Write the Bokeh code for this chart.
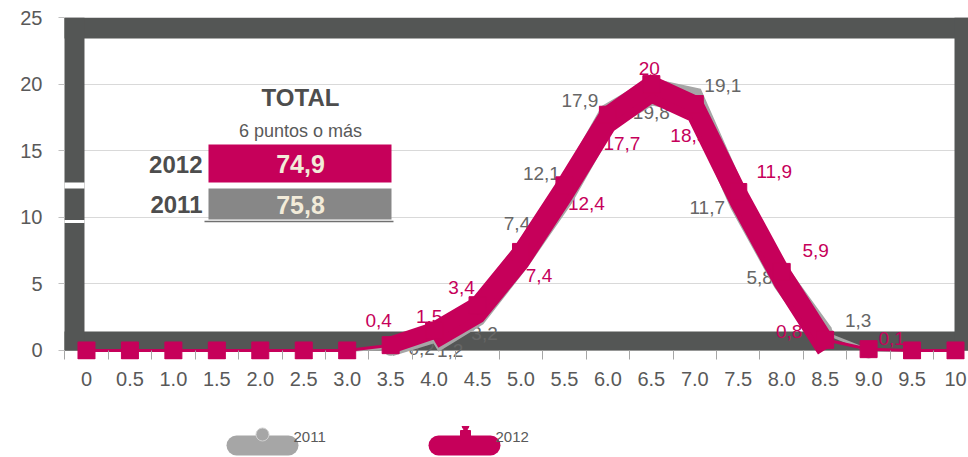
from bokeh.plotting import figure
from bokeh.layouts import column
from bokeh.models import Range1d, FixedTicker, ColumnDataSource
from bokeh.core.properties import value
from bokeh.embed import file_html
from bokeh.resources import INLINE

# ---------------- data ----------------
categories = ["0", "0.5", "1.0", "1.5", "2.0", "2.5", "3.0", "3.5", "4.0", "4.5", "5.0",
              "5.5", "6.0", "6.5", "7.0", "7.5", "8.0", "8.5", "9.0", "9.5", "10"]
values_2011 = [0, 0, 0, 0, 0, 0, 0, 0.2, 1.2, 3.2, 7.4, 12.1, 17.9, 19.8, 19.1, 11.7, 5.8, 1.3, 0, 0, 0]
values_2012 = [0, 0, 0, 0, 0, 0, 0, 0.4, 1.5, 3.4, 7.4, 12.4, 17.7, 20.0, 18.5, 11.9, 5.9, 0.8, 0.1, 0, 0]
series_names = ["2011", "2012"]
y_ticks = [0, 5, 10, 15, 20, 25]
table_title = "TOTAL"
table_subtitle = "6 puntos o más"
table_years = ["2012", "2011"]
table_totals = [74.9, 75.8]

# ---------------- styles ----------------
PINK = "#C6005A"
GRAY = "#A6A6A6"
DARK = "#545655"
LBL_GRAY = "#666666"
AXIS_TXT = "#595959"
FONT = "Liberation Sans"

W = 968
H_MAIN = 425
H_LEG = 32
FRAME_L = 64
PX_PER_UNIT = 13.32          # vertical pixels per y unit in the frame

p = figure(width=W, height=H_MAIN, output_backend="svg", toolbar_location=None,
           x_range=Range1d(-0.506, 20.299), y_range=Range1d(-0.676, 25),
           min_border_left=FRAME_L, min_border_right=0, min_border_top=17, min_border_bottom=66)
p.outline_line_color = None
p.background_fill_color = "white"
p.border_fill_color = "white"

# axes
p.xgrid.visible = False
p.ygrid.ticker = FixedTicker(ticks=y_ticks)
p.ygrid.grid_line_color = "#D9D9D9"
p.yaxis.ticker = FixedTicker(ticks=y_ticks)
p.yaxis.axis_line_color = None
p.yaxis.major_tick_out = 6
p.yaxis.major_tick_in = 0
p.yaxis.minor_tick_line_color = None
p.yaxis.major_tick_line_color = "#BFBFBF"
p.yaxis.major_label_standoff = 16

idx = list(range(len(categories)))
p.xaxis.ticker = FixedTicker(ticks=idx, minor_ticks=[i - 0.5 for i in range(len(categories) + 1)])
p.xaxis.major_label_overrides = {i: c for i, c in zip(idx, categories)}
p.xaxis.major_tick_out = 0
p.xaxis.major_tick_in = 0
p.xaxis.minor_tick_out = 0
p.xaxis.minor_tick_in = 9
p.xaxis.minor_tick_line_color = "#A6A6A6"
p.xaxis.axis_line_color = None
p.xaxis.major_label_standoff = 12
for ax in (p.xaxis, p.yaxis):
    ax.major_label_text_font = FONT
    ax.major_label_text_font_size = "20px"
    ax.major_label_text_color = AXIS_TXT

# dark frame ring (layout only)
p.quad(left=[-1, -1, -1, 19.977], right=[21, 21, -0.046, 21],
       bottom=[23.42, 0, 0, 0], top=[25, 1.43, 25, 25],
       fill_color=DARK, line_color=None)
# small white breaks on the left side of the frame
p.quad(left=[-1, -1], right=[-0.046, -0.046],
       bottom=[(350 - 188) / PX_PER_UNIT, (350 - 222.5) / PX_PER_UNIT],
       top=[(350 - 182) / PX_PER_UNIT, (350 - 219.5) / PX_PER_UNIT],
       fill_color="white", line_color=None)

# ---------------- data labels ----------------
def fmt(v):
    s = f"{v:.1f}".replace(".", ",")
    return s[:-2] if s.endswith(",0") else s

off_2011 = {7: (31, 1), 8: (16, 16), 9: (7, 26), 10: (-4, -28), 11: (-23, -16), 12: (-28, -12),
            13: (0, 26), 14: (28, -11), 15: (-31, 13), 16: (-22, 4), 17: (33, -13)}
off_2012 = {7: (-12, -25), 8: (-5, -14), 9: (-16, -18), 10: (18, 24), 11: (22, 18), 12: (14, 29),
            13: (-2, -16), 14: (-6, 31), 15: (36, -20), 16: (34, -21), 17: (-36, -8), 18: (23, -11)}

for vals, offs, col in ((values_2011, off_2011, LBL_GRAY), (values_2012, off_2012, PINK)):
    ii = [i for i in idx if vals[i] > 0 and i in offs]
    src = ColumnDataSource(dict(x=ii, y=[vals[i] for i in ii], t=[fmt(vals[i]) for i in ii],
                                dx=[offs[i][0] for i in ii], dy=[offs[i][1] for i in ii]))
    p.text(x="x", y="y", text="t", x_offset="dx", y_offset="dy", source=src,
           text_font=value(FONT), text_font_size="19px", text_color=col,
           text_align="center", text_baseline="middle")

# ---------------- series ----------------
thick = slice(7, 18)
shadow = slice(8, 18)
SH = 10 / PX_PER_UNIT   # downward offset of the heavy band, in y units


def draw_series(vals, color, marker, msize):
    p.line(idx, vals, line_color=color, line_width=3)
    p.line(idx[shadow], [v - SH for v in vals[shadow]], line_color=color, line_width=17,
           line_join="miter")
    p.line(idx[thick], vals[thick], line_color=color, line_width=17, line_join="miter")
    p.scatter(idx, vals, marker=marker, size=msize, fill_color=color, line_color=color)


draw_series(values_2011, GRAY, "circle", 15)
draw_series(values_2012, PINK, "square", 17)

# ---------------- inset table (data coords from pixel layout) ----------------
def dx_(px):
    return (px - 86) / 43.45

def dy_(py):
    return (350 - py) / PX_PER_UNIT

p.text(x=[dx_(300)], y=[dy_(97)], text=[table_title], text_font=value(FONT), text_font_size="24px",
       text_font_style="bold", text_color="#4D4D4D", text_align="center", text_baseline="middle")
p.text(x=[dx_(300)], y=[dy_(131)], text=[table_subtitle], text_font=value(FONT), text_font_size="18px",
       text_color="#595959", text_align="center", text_baseline="middle")
rect_tops = [144, 188]
rect_bots = [182, 219]
rect_cols = [PINK, "#878787"]
p.quad(left=[dx_(208)] * 2, right=[dx_(391)] * 2, top=[dy_(t) for t in rect_tops],
       bottom=[dy_(b) for b in rect_bots], fill_color=rect_cols, line_color=None)
p.segment(x0=[dx_(204)], x1=[dx_(393)], y0=[dy_(221)], y1=[dy_(221)], line_color="#707070", line_width=1.5)
ycent = [dy_((t + b) / 2 + 1) for t, b in zip(rect_tops, rect_bots)]
p.text(x=[dx_(202)] * 2, y=ycent, text=table_years, text_font=value(FONT), text_font_size="24px",
       text_font_style="bold", text_color="#4D4D4D", text_align="right", text_baseline="middle")
p.text(x=[dx_(300)] * 2, y=ycent, text=[fmt(v) for v in table_totals], text_font=value(FONT),
       text_font_size="25px", text_font_style="bold", text_color="#F2EBD9",
       text_align="center", text_baseline="middle")

# ---------------- legend strip (pixel coordinates; frame aligned with main frame) ----------------
q = figure(width=W, height=H_LEG, output_backend="svg", toolbar_location=None,
           x_range=Range1d(FRAME_L, W), y_range=Range1d(0, H_LEG),
           x_axis_type=None, y_axis_type=None,
           min_border_left=FRAME_L, min_border_right=0, min_border_top=0, min_border_bottom=0)
q.outline_line_color = None
q.xgrid.visible = False
q.ygrid.visible = False
q.background_fill_color = "white"
q.border_fill_color = "white"

leg_x = [236, 438]          # left end of each legend swatch
leg_colors = [GRAY, PINK]
for name, x0, col in zip(series_names, leg_x, leg_colors):
    q.line([x0, x0 + 52], [12, 12], line_color=col, line_width=20, line_cap="round")
    q.text(x=[x0 + 57], y=[21], text=[name], text_font=value(FONT), text_font_size="15px",
           text_color=AXIS_TXT, text_align="left", text_baseline="middle")
q.scatter([leg_x[0] + 26], [23], marker="circle", size=13, fill_color=GRAY, line_color="#D0D0D0")
q.scatter([leg_x[1] + 27], [22], marker="square", size=10, fill_color=PINK, line_color=PINK)
q.scatter([leg_x[1] + 27], [29], marker="inverted_triangle", size=7, fill_color=PINK, line_color=PINK)

layout = column(p, q, spacing=0)
open("out.html", "w").write(file_html(layout, INLINE))
